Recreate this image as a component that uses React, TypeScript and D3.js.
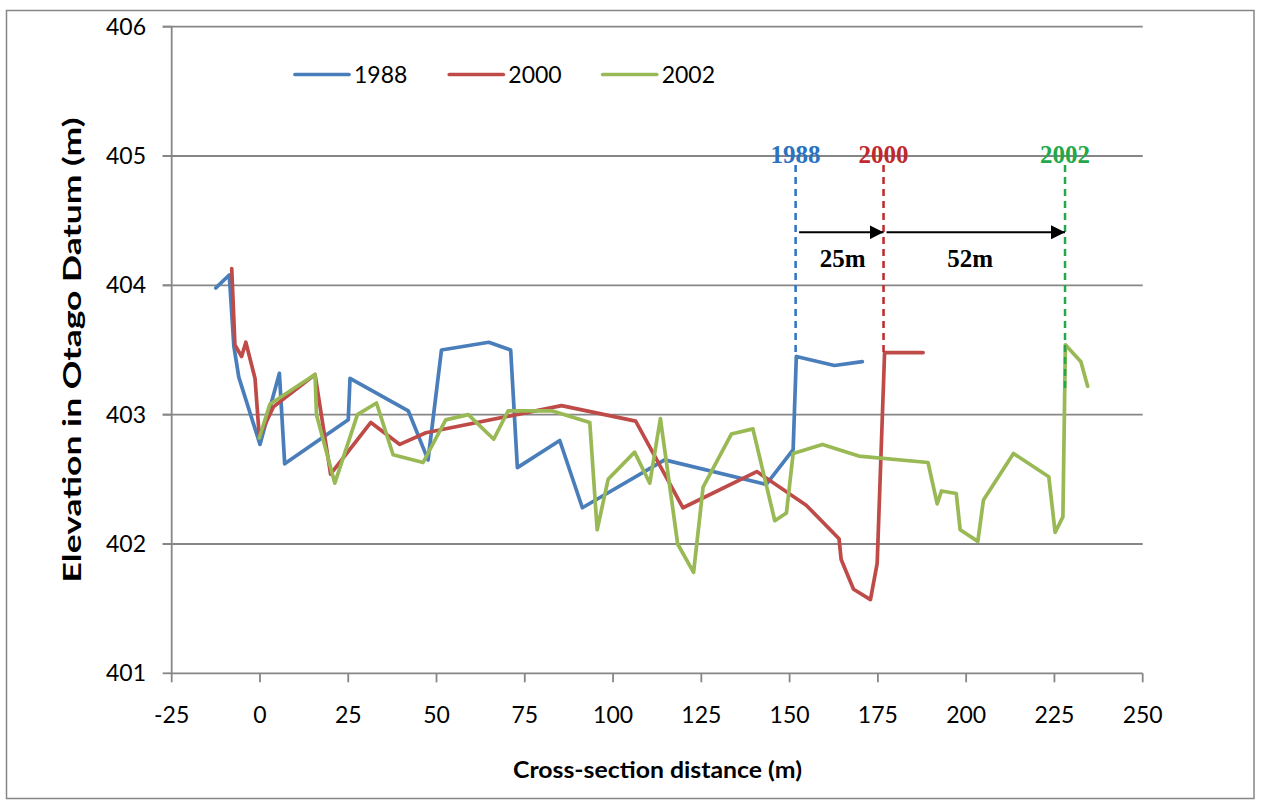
import React from "react";
import * as d3 from "d3";

const xTicks = [-25, 0, 25, 50, 75, 100, 125, 150, 175, 200, 225, 250];
const yTicks = [401, 402, 403, 404, 405, 406];

const series1988: [number, number][] = [
  [-12.5, 403.98], [-8.7, 404.08], [-7.4, 403.53], [-6.0, 403.29], [0, 402.77],
  [5.5, 403.32], [7.0, 402.62], [25, 402.96], [25.5, 403.28], [42, 403.03],
  [47.6, 402.65], [51.4, 403.5], [64.8, 403.56], [71, 403.5], [72.9, 402.59],
  [84.9, 402.8], [91.3, 402.28], [114.6, 402.65], [143.4, 402.46], [151, 402.73],
  [151.9, 403.45], [162.7, 403.38], [170.6, 403.41],
];

const series2000: [number, number][] = [
  [-8, 404.13], [-7.1, 403.54], [-5.2, 403.45], [-4.0, 403.56], [-1.4, 403.28],
  [-0.2, 402.83], [3.8, 403.06], [15.6, 403.31], [20, 402.54], [31.4, 402.94],
  [39.6, 402.77], [47, 402.86], [85.4, 403.07], [106.4, 402.95], [119.8, 402.28],
  [140.7, 402.56], [154.7, 402.3], [164, 402.04], [164.6, 401.88], [168.1, 401.65],
  [172.9, 401.57], [174.8, 401.85], [176.9, 403.48], [187.8, 403.48],
];

const series2002: [number, number][] = [
  [-0.2, 402.82], [2.8, 403.08], [15.6, 403.31], [16, 403.0], [21.2, 402.47],
  [27.6, 403.0], [33, 403.09], [37.7, 402.69], [46.2, 402.63], [52.6, 402.96],
  [59, 403.0], [66.2, 402.81], [70.3, 403.03], [82.6, 403.03], [93.4, 402.94],
  [95.5, 402.11], [98.6, 402.5], [106.1, 402.71], [110.4, 402.47], [113.4, 402.97],
  [118.3, 402.0], [122.8, 401.78], [125.5, 402.44], [133.5, 402.85], [139.6, 402.89],
  [145.8, 402.18], [149.1, 402.24], [151, 402.7], [159.3, 402.77], [169.6, 402.68],
  [189.2, 402.63], [191.8, 402.31], [193, 402.41], [197.2, 402.39], [198.3, 402.11],
  [203.3, 402.02], [204.9, 402.34], [213.4, 402.7], [223.4, 402.52], [225.2, 402.09],
  [227.4, 402.21], [228.1, 403.54], [232.5, 403.41], [234.4, 403.22],
];

const seriesNames = ["1988", "2000", "2002"];
const seriesColors = ["#4A7EBB", "#BE4B48", "#98B954"];

// annotation: bank positions and their line-end elevations
const markYears = ["1988", "2000", "2002"];
const markX = [151.7, 176.6, 228];
const markBottom = [403.45, 403.48, 403.18];
const markColors = ["#2B72C0", "#C0282D", "#22A84A"];
const shiftLabels = ["25m", "52m"];

const W = 1262;
const H = 802;
const x = d3.scaleLinear().domain([-25, 250]).range([171.7, 1142.7]);
const y = d3.scaleLinear().domain([401, 406]).range([673.3, 26.7]);

const grid = "#868686";
const sans = "Lato, 'Open Sans', sans-serif";
const serif = "'Liberation Serif', 'Times New Roman', serif";

export default function App() {
  const line = d3
    .line<[number, number]>()
    .x((d) => x(d[0]))
    .y((d) => y(d[1]));
  const all = [series1988, series2000, series2002];
  const markTop = 404.93;
  const arrowY = y(404.41);

  const legendX = [295, 449.3, 602.7];

  return (
    <svg
      width={W}
      height={H}
      style={{ position: "absolute", left: 0, top: 0, background: "#fff" }}
    >
      <defs>
        <marker
          id="arr"
          viewBox="0 0 10 10"
          refX="10"
          refY="5"
          markerWidth="14"
          markerHeight="14"
          markerUnits="userSpaceOnUse"
          orient="auto"
        >
          <path d="M0,0 L10,5 L0,10 z" fill="#000" />
        </marker>
      </defs>
      <rect x={6.5} y={10.5} width={1247.5} height={788} fill="#fff" stroke={grid} strokeWidth={1.5} />

      {/* gridlines */}
      {yTicks.map((t) => (
        <line
          key={"g" + t}
          x1={t === 401 ? x(-25) : x(-25) - 9}
          x2={x(250)}
          y1={y(t)}
          y2={y(t)}
          stroke={grid}
          strokeWidth={1.8}
        />
      ))}
      {yTicks.map((t) => (
        <line key={"yt" + t} x1={x(-25) - 9} x2={x(-25)} y1={y(t)} y2={y(t)} stroke={grid} strokeWidth={1.8} />
      ))}
      {/* axes */}
      <line x1={x(-25)} x2={x(-25)} y1={y(406)} y2={y(401)} stroke={grid} strokeWidth={1.8} />
      {xTicks.map((t) => (
        <line key={"xt" + t} x1={x(t)} x2={x(t)} y1={y(401)} y2={y(401) + 9} stroke={grid} strokeWidth={1.8} />
      ))}

      {/* tick labels */}
      {yTicks.map((t) => (
        <text
          key={"yl" + t}
          x={146}
          y={y(t)}
          dy="0.35em"
          textAnchor="end"
          fontFamily={sans}
          fontSize={23}
          fill="#000"
        >
          {t}
        </text>
      ))}
      {xTicks.map((t) => (
        <text
          key={"xl" + t}
          x={x(t)}
          y={723}
          textAnchor="middle"
          fontFamily={sans}
          fontSize={23}
          fill="#000"
        >
          {t}
        </text>
      ))}

      {/* axis titles */}
      <text
        x={657.5}
        y={778}
        textAnchor="middle"
        fontFamily={sans}
        fontWeight="bold"
        fontSize={23.5}
        textLength={289}
        lengthAdjust="spacingAndGlyphs"
      >
        Cross-section distance (m)
      </text>
      <text
        transform={`translate(81,350) rotate(-90)`}
        textAnchor="middle"
        fontFamily={sans}
        fontWeight="bold"
        fontSize={25}
        textLength={465}
        lengthAdjust="spacingAndGlyphs"
      >
        Elevation in Otago Datum (m)
      </text>

      {/* series */}
      {all.map((s, i) => (
        <path
          key={"s" + i}
          d={line(s) || ""}
          fill="none"
          stroke={seriesColors[i]}
          strokeWidth={3.7}
          strokeLinejoin="round"
          strokeLinecap="round"
        />
      ))}

      {/* legend */}
      {seriesNames.map((n, i) => (
        <g key={"lg" + n}>
          <line
            x1={legendX[i]}
            x2={legendX[i] + 54}
            y1={74.5}
            y2={74.5}
            stroke={seriesColors[i]}
            strokeWidth={3.7}
            strokeLinecap="round"
          />
          <text x={legendX[i] + 59} y={74.5} dy="0.35em" fontFamily={sans} fontSize={23} fill="#000">
            {n}
          </text>
        </g>
      ))}

      {/* annotations */}
      {markYears.map((m, i) => (
        <g key={"m" + m}>
          <line
            x1={x(markX[i])}
            x2={x(markX[i])}
            y1={y(markTop)}
            y2={y(markBottom[i])}
            stroke={markColors[i]}
            strokeWidth={2.5}
            strokeDasharray="7,5"
          />
          <text
            x={x(markX[i])}
            y={163}
            textAnchor="middle"
            fontFamily={serif}
            fontWeight="bold"
            fontSize={25}
            fill={markColors[i]}
          >
            {m}
          </text>
        </g>
      ))}
      {shiftLabels.map((s, i) => {
        const x0 = x(markX[i]) + (i === 0 ? 3.5 : 3);
        const x1 = x(markX[i + 1]);
        return (
          <g key={"a" + s}>
            <line x1={x0} x2={x1} y1={arrowY} y2={arrowY} stroke="#000" strokeWidth={2} markerEnd="url(#arr)" />
            <text
              x={(x(markX[i]) + x1) / 2 + (i === 0 ? 3 : -4)}
              y={267}
              textAnchor="middle"
              fontFamily={serif}
              fontWeight="bold"
              fontSize={25}
              fill="#000"
            >
              {s}
            </text>
          </g>
        );
      })}
    </svg>
  );
}
